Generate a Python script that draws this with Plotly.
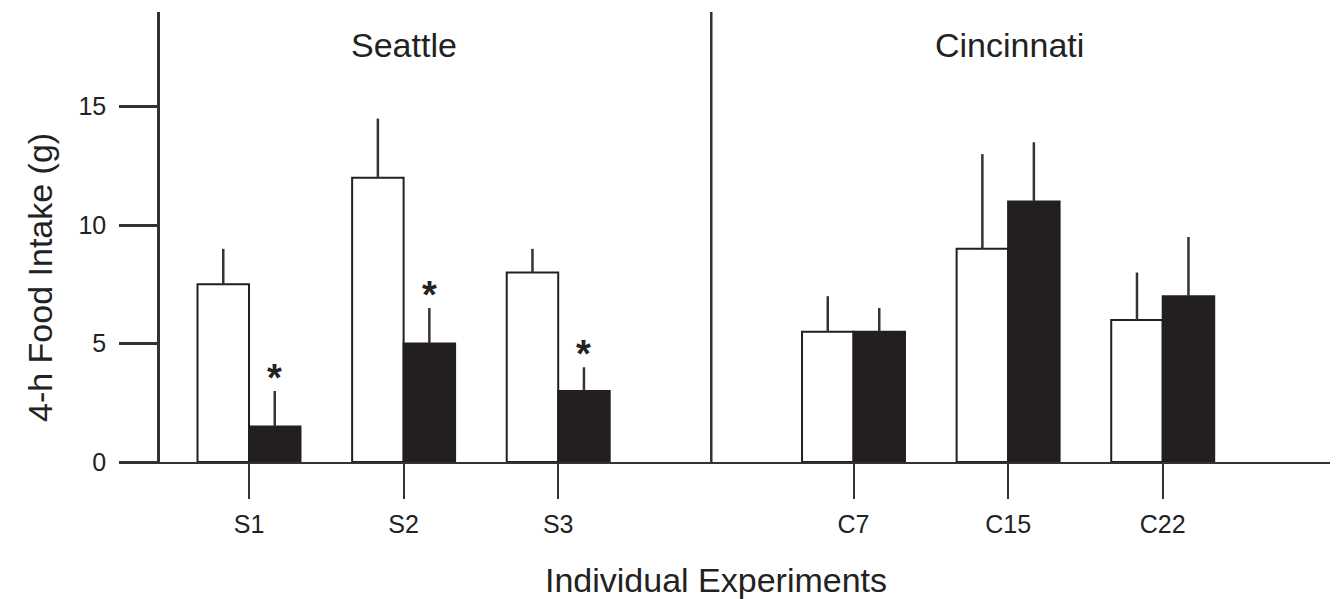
import plotly.graph_objects as go

# ---- data ----
experiments = ["S1", "S2", "S3", "C7", "C15", "C22"]
positions = [0, 1, 2, 3.91, 4.91, 5.91]
control_mean = [7.5, 12.0, 8.0, 5.5, 9.0, 6.0]
control_err = [1.5, 2.5, 1.0, 1.5, 4.0, 2.0]
treated_mean = [1.5, 5.0, 3.0, 5.5, 11.0, 7.0]
treated_err = [1.5, 1.5, 1.0, 1.0, 2.5, 2.5]
significant = [True, True, True, False, False, False]
groups = ["Seattle", "Cincinnati"]
group_centers = [1.0, 4.92]
divider_x = 2.99
y_ticks = [0, 5, 10, 15]

# ---- style ----
FONT = "Liberation Sans, Arial, sans-serif"
INK = "#231f20"
AX = "#333333"
bar_w = 0.333

fig = go.Figure()
fig.add_trace(go.Bar(
    x=positions, y=control_mean,
    marker=dict(color="white", line=dict(color=INK, width=2)),
    error_y=dict(type="data", array=control_err, arrayminus=[0]*len(control_err),
                 symmetric=False, color=AX, thickness=2.5, width=0),
    showlegend=False, hoverinfo="skip",
))
fig.add_trace(go.Bar(
    x=positions, y=treated_mean,
    marker=dict(color=INK, line=dict(color=INK, width=2)),
    error_y=dict(type="data", array=treated_err, arrayminus=[0]*len(treated_err),
                 symmetric=False, color=AX, thickness=2.5, width=0),
    showlegend=False, hoverinfo="skip",
))

annotations = []
for p, m, e, s in zip(positions, treated_mean, treated_err, significant):
    if s:
        annotations.append(dict(
            x=p + bar_w / 2, y=m + e, xref="x", yref="y", text="<b>*</b>",
            showarrow=False, yanchor="bottom", yshift=-10,
            font=dict(family=FONT, size=38, color="#222")))
for g, gx in zip(groups, group_centers):
    annotations.append(dict(
        x=gx, y=0.927, xref="x", yref="paper", text=g, showarrow=False,
        xanchor="center", yanchor="middle",
        font=dict(family=FONT, size=34, color="#222")))
annotations.append(dict(
    x=-0.103, y=0.41, xref="paper", yref="paper", text="4-h Food Intake (g)",
    textangle=-90, showarrow=False, xanchor="center", yanchor="middle",
    font=dict(family=FONT, size=34, color="#222")))
annotations.append(dict(
    x=0.475, y=-0.262, xref="paper", yref="paper", text="Individual Experiments",
    showarrow=False, xanchor="center", yanchor="middle",
    font=dict(family=FONT, size=34, color="#222")))

fig.update_layout(
    width=1342, height=599,
    margin=dict(l=160, r=12, t=12, b=137),
    plot_bgcolor="white", paper_bgcolor="white",
    barmode="group", bargap=1 - 2 * bar_w, bargroupgap=0,
    annotations=annotations,
    shapes=[dict(type="line", xref="x", yref="paper", x0=divider_x, x1=divider_x,
                 y0=0, y1=1, line=dict(color=AX, width=2.5))],
    xaxis=dict(range=[-0.5757, 6.992], tickvals=positions, ticktext=experiments,
               showline=True, linecolor=AX, linewidth=2, ticks="outside",
               ticklen=35, tickwidth=2, tickcolor=AX, showgrid=False, zeroline=False,
               ticklabelstandoff=4,
               tickfont=dict(family=FONT, size=25, color="#222")),
    yaxis=dict(range=[0, 19.0], tickvals=y_ticks, showline=True, linecolor=AX,
               linewidth=2.5, ticks="outside", ticklen=38, tickwidth=2.5, tickcolor=AX,
               showgrid=False, zeroline=False, ticklabelstandoff=8,
               tickfont=dict(family=FONT, size=25, color="#222")),
)

fig.write_html("out.html", config={"displayModeBar": False},
               post_script="document.body.style.margin='0';document.body.style.overflow='hidden';")
